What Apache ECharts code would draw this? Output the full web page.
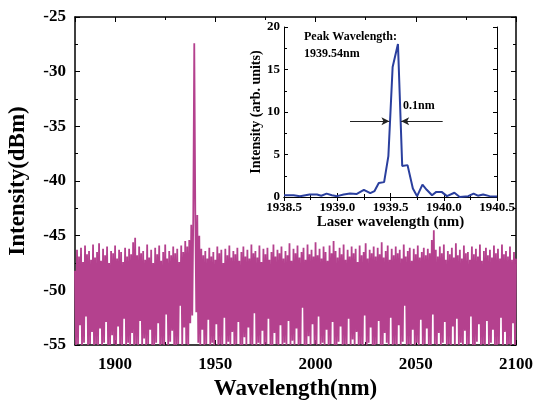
<!DOCTYPE html>
<html>
<head>
<meta charset="utf-8">
<script src="https://cdn.jsdelivr.net/npm/echarts@6/dist/echarts.min.js"></script>
<style>
  html, body { margin: 0; padding: 0; background: #fff; }
  #main { width: 536px; height: 401px; }
</style>
</head>
<body>
<div id="main"></div>
<script>
// 主光谱：整数波长点 (1880..2100 nm) 与半整数波长点 (1880.5..2099.5 nm)
var specStart = 1880;
var specEven = [
  -48.2,-46.3,-46.9,-46.1,-47.4,-45.9,-46.7,-46.4,-47.2,-45.8,
  -47.0,-46.5,-45.7,-47.3,-46.2,-46.8,-46.0,-47.5,-46.4,-46.6,
  -45.9,-47.1,-46.3,-46.5,-47.4,-46.1,-46.9,-46.2,-46.7,-45.6,
  -45.2,-46.8,-46.0,-46.6,-46.4,-47.2,-45.8,-47.0,-46.3,-47.5,
  -46.1,-46.7,-45.9,-47.3,-46.5,-45.8,-47.1,-46.4,-46.8,-46.0,
  -46.6,-46.2,-47.4,-45.9,-46.5,-45.5,-46.0,-45.4,-44.0,-43.3,
  -42.7,-43.1,-45.0,-46.2,-46.8,-46.4,-47.1,-46.1,-46.9,-46.5,
  -47.2,-46.0,-46.6,-46.3,-47.5,-46.2,-46.8,-45.9,-47.0,-46.4,
  -46.7,-46.1,-47.3,-46.5,-46.0,-46.9,-46.3,-47.1,-45.8,-46.6,
  -46.4,-47.0,-45.9,-47.4,-46.2,-46.7,-46.1,-47.2,-46.5,-45.8,
  -46.9,-46.3,-46.6,-46.0,-47.1,-46.4,-46.8,-45.7,-47.3,-46.2,
  -46.6,-45.9,-47.0,-46.5,-46.1,-47.2,-45.8,-46.7,-46.3,-46.9,
  -45.6,-46.8,-46.2,-47.1,-46.0,-46.5,-47.3,-45.9,-46.6,-45.5,
  -46.4,-47.0,-46.1,-46.7,-45.8,-47.2,-46.3,-46.9,-46.0,-46.6,
  -46.2,-47.4,-45.9,-46.8,-46.5,-45.7,-47.1,-46.3,-46.6,-46.0,
  -46.9,-46.1,-46.7,-45.6,-47.0,-46.4,-45.9,-47.2,-46.2,-46.8,
  -46.0,-46.6,-46.3,-47.1,-45.8,-46.9,-46.4,-46.1,-47.3,-46.2,
  -46.7,-45.9,-47.0,-46.5,-46.1,-46.8,-46.2,-46.6,-45.4,-44.5,
  -46.3,-46.9,-46.0,-46.6,-45.8,-47.2,-46.4,-46.7,-46.1,-47.0,
  -45.7,-46.8,-46.3,-47.1,-45.9,-46.6,-46.5,-47.2,-46.0,-46.7,
  -46.2,-46.9,-45.8,-47.3,-46.4,-46.1,-46.8,-46.3,-47.0,-45.9,
  -46.6,-46.2,-47.1,-45.8,-46.7,-46.4,-46.9,-46.0,-47.2,-46.5,
  -47.1
];
var specHalf = [
  -55,-54.9,-53.2,-55,-54.8,-52.4,-55,-54.9,-53.8,-55,
  -54.9,-55,-53.5,-55,-54.8,-52.9,-55,-55,-54.1,-54.9,
  -55,-53.3,-54.9,-55,-52.6,-55,-54.8,-55,-53.9,-55,
  -54.9,-55,-52.8,-55,-54.4,-55,-54.9,-53.6,-55,-55,
  -54.8,-53.0,-55,-54.9,-55,-52.2,-55,-54.7,-53.7,-55,
  -55,-54.9,-51.4,-55,-53.4,-54.9,-55,-53.0,-52.3,-27.4,
  -52.0,-54.8,-55,-53.6,-55,-54.9,-52.7,-55,-54.8,-55,
  -53.1,-55,-54.9,-55,-52.5,-55,-54.7,-55,-53.8,-55,
  -54.9,-52.9,-55,-55,-54.3,-55,-53.4,-54.9,-55,-52.1,
  -55,-54.8,-55,-53.7,-55,-54.9,-52.6,-55,-55,-53.9,
  -54.9,-55,-53.2,-55,-54.8,-55,-52.8,-55,-54.6,-55,
  -53.5,-55,-54.9,-51.6,-55,-55,-54.2,-55,-53.1,-54.9,
  -55,-52.4,-55,-54.8,-55,-53.6,-55,-54.9,-52.9,-55,
  -55,-54.7,-53.3,-55,-54.9,-55,-52.6,-55,-54.5,-55,
  -53.8,-55,-54.9,-55,-52.3,-55,-54.8,-53.4,-55,-55,
  -54.9,-52.8,-55,-55,-53.9,-54.8,-55,-52.5,-55,-54.9,
  -55,-53.2,-55,-54.7,-51.4,-55,-54.9,-55,-53.6,-55,
  -54.8,-55,-52.7,-55,-54.9,-53.5,-55,-55,-52.2,-54.9,
  -55,-53.9,-55,-54.8,-52.9,-55,-54.9,-55,-53.3,-55,
  -52.6,-55,-54.8,-55,-53.7,-55,-54.9,-52.4,-55,-55,
  -54.7,-53.1,-55,-54.9,-55,-52.8,-55,-54.8,-53.6,-55,
  -55,-54.9,-52.5,-55,-53.8,-55,-54.9,-55,-53.0,-55
];

// 插图：激光光谱
var insetWl = [
  1938.50,1938.59,1938.65,1938.74,1938.81,1938.85,1938.90,1938.95,1939.00,1939.06,
  1939.12,1939.18,1939.25,1939.31,1939.35,1939.39,1939.44,1939.48,1939.52,1939.57,
  1939.61,1939.66,1939.71,1939.75,1939.80,1939.84,1939.89,1939.93,1939.98,1940.03,
  1940.10,1940.15,1940.23,1940.28,1940.32,1940.37,1940.43,1940.50
];
var insetVal = [
  0.2,0.2,0.1,0.3,0.3,0.15,0.4,0.2,0.1,0.3,
  0.4,0.35,0.85,0.45,0.7,1.65,1.75,4.8,15.3,18.0,
  3.65,3.75,1.0,0.1,1.45,0.85,0.2,0.6,0.6,0.1,
  0.5,0.0,0.1,0.4,0.15,0.3,0.1,0.05
];
var fwhmLeft = [1939.12, 1939.49];
var fwhmRight = [1939.99, 1939.60];
var fwhmLevel = 8.9;

var spectrum = [];
for (var i = 0; i < specEven.length; i++) {
  spectrum.push([specStart + i, specEven[i]]);
  if (i < specHalf.length) spectrum.push([specStart + i + 0.5, specHalf[i]]);
}
var inset = insetWl.map(function (w, k) { return [w, insetVal[k]]; });

var font = 'Liberation Serif';
var black = '#000';
function mirror(extra) {
  var base = {
    type: 'value',
    axisLine: { show: true, lineStyle: { color: black, width: 1.5 } },
    axisTick: { show: true, inside: true, length: 5, lineStyle: { color: black } },
    minorTick: { show: true, splitNumber: 2, length: 3, lineStyle: { color: black } },
    axisLabel: { show: false },
    splitLine: { show: false }
  };
  for (var k in extra) base[k] = extra[k];
  return base;
}

var myChart = echarts.init(document.getElementById('main'));
myChart.setOption({
  animation: false,
  backgroundColor: '#fff',
  grid: [
    { left: 75, top: 17, width: 441, height: 328, outerBoundsMode: 'none', containLabel: false },
    { left: 284, top: 27, width: 213, height: 170, outerBoundsMode: 'none', containLabel: false }
  ],
  xAxis: [
    mirror({
      gridIndex: 0, min: 1880, max: 2100, position: 'bottom',
      axisLabel: { show: true, showMinLabel: false, margin: 11, color: black,
        fontFamily: font, fontWeight: 'bold', fontSize: 17,
        formatter: function (v) { return String(v); } },
      name: 'Wavelength(nm)', nameLocation: 'middle', nameGap: 26,
      nameTextStyle: { fontFamily: font, fontWeight: 'bold', fontSize: 23, color: black }
    }),
    mirror({ gridIndex: 0, min: 1880, max: 2100, position: 'top' }),
    mirror({
      gridIndex: 1, min: 1938.5, max: 1940.5, interval: 0.5, position: 'bottom',
      axisLine: { show: true, lineStyle: { color: black, width: 1 } },
      axisTick: { show: true, inside: true, length: 4, lineStyle: { color: black } },
      axisLabel: { show: true, margin: 4, color: black, fontFamily: font, fontWeight: 'bold', fontSize: 13,
        formatter: function (v) { return v.toFixed(1); } },
      name: 'Laser wavelength (nm)', nameLocation: 'middle', nameGap: 18,
      nameTextStyle: { fontFamily: font, fontWeight: 'bold', fontSize: 15, color: black,
        verticalAlign: 'top' }
    }),
    mirror({
      gridIndex: 1, min: 1938.5, max: 1940.5, interval: 0.5, position: 'top',
      axisLine: { show: true, lineStyle: { color: black, width: 1 } },
      axisTick: { show: true, inside: true, length: 4, lineStyle: { color: black } }
    })
  ],
  yAxis: [
    mirror({
      gridIndex: 0, min: -55, max: -25, interval: 5, position: 'left',
      axisLabel: { show: true, margin: 9, color: black, fontFamily: font, fontWeight: 'bold', fontSize: 17 },
      name: 'Intensity(dBm)', nameLocation: 'middle', nameGap: 45,
      nameTextStyle: { fontFamily: font, fontWeight: 'bold', fontSize: 23, color: black }
    }),
    mirror({ gridIndex: 0, min: -55, max: -25, interval: 5, position: 'right' }),
    mirror({
      gridIndex: 1, min: 0, max: 20, interval: 5, position: 'left',
      axisLine: { show: true, lineStyle: { color: black, width: 1 } },
      axisTick: { show: true, inside: true, length: 4, lineStyle: { color: black } },
      axisLabel: { show: true, margin: 4, color: black, fontFamily: font, fontWeight: 'bold', fontSize: 13 },
      name: 'Intensity (arb. units)', nameLocation: 'middle', nameGap: 21,
      nameTextStyle: { fontFamily: font, fontWeight: 'bold', fontSize: 14, color: black }
    }),
    mirror({
      gridIndex: 1, min: 0, max: 20, interval: 5, position: 'right',
      axisLine: { show: true, lineStyle: { color: black, width: 1 } },
      axisTick: { show: true, inside: true, length: 4, lineStyle: { color: black } }
    })
  ],
  series: [
    {
      type: 'line', xAxisIndex: 0, yAxisIndex: 0, data: spectrum,
      showSymbol: false, symbol: 'none',
      lineStyle: { color: '#b4418e', width: 1.8 }
    },
    {
      type: 'line', xAxisIndex: 2, yAxisIndex: 2, data: inset,
      showSymbol: false, symbol: 'none',
      lineStyle: { color: '#2a3f9e', width: 2 },
      markLine: {
        silent: true, symbol: ['none', 'arrow'], symbolSize: [6, 8],
        label: { show: false },
        lineStyle: { color: '#222', width: 1, type: 'solid' },
        data: [
          [{ coord: [fwhmLeft[0], fwhmLevel] }, { coord: [fwhmLeft[1], fwhmLevel] }],
          [{ coord: [fwhmRight[0], fwhmLevel] }, { coord: [fwhmRight[1], fwhmLevel] }]
        ]
      }
    }
  ],
  graphic: [
    { type: 'text', left: 304, top: 28,
      style: { text: 'Peak Wavelength:\n1939.54nm', fill: black, lineHeight: 17,
        font: 'bold 12px "Liberation Serif"' } },
    { type: 'text', left: 403, top: 100,
      style: { text: '0.1nm', fill: black, font: 'bold 12px "Liberation Serif"' } }
  ]
});
</script>
</body>
</html>
